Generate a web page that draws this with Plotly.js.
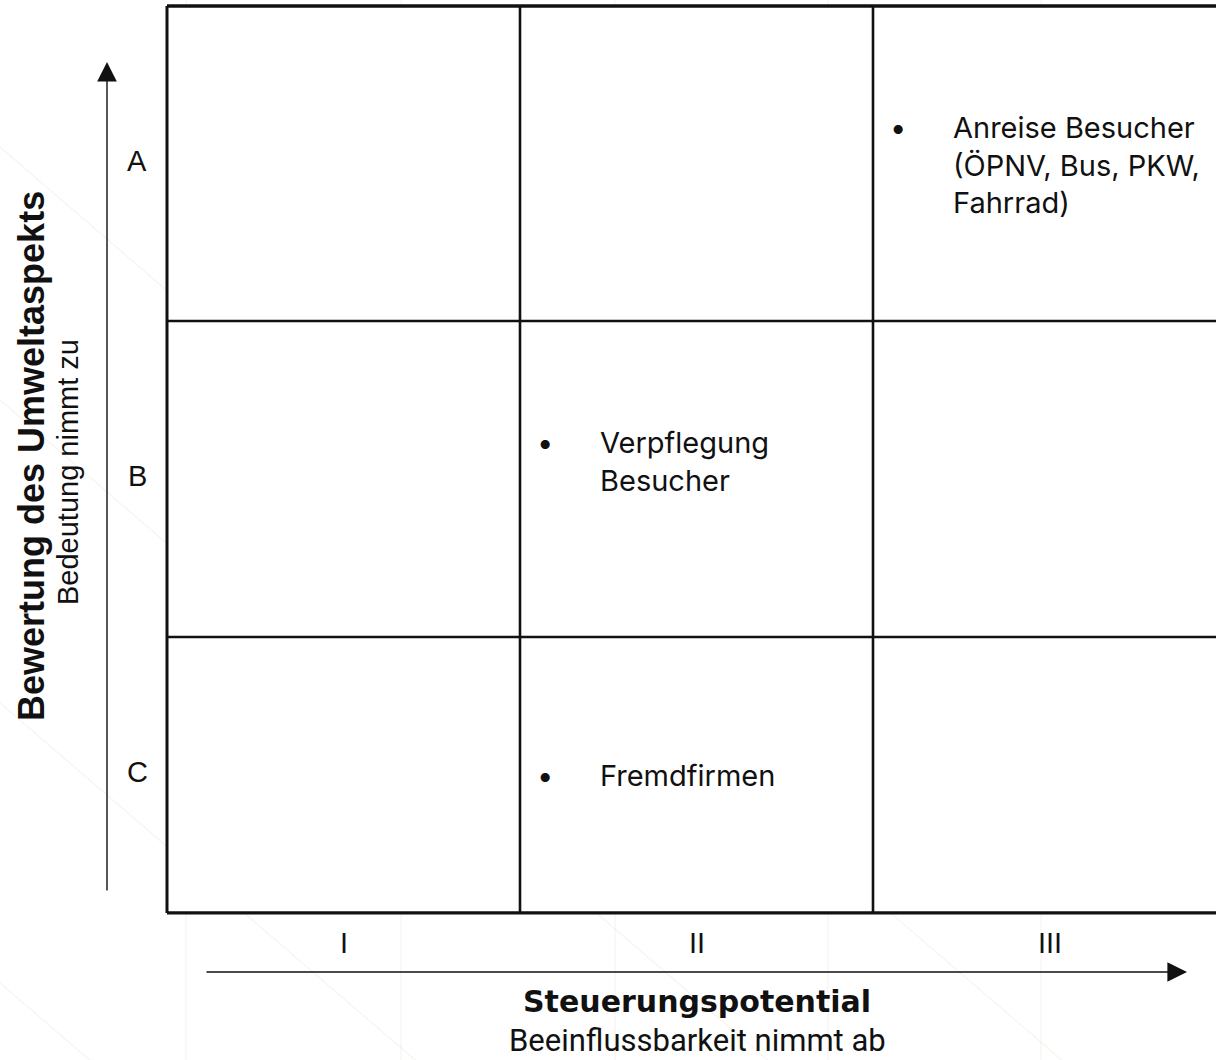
<!DOCTYPE html>
<html>
<head>
<meta charset="utf-8">
<script src="https://cdn.plot.ly/plotly-3.0.1.min.js"></script>
<style>html,body{margin:0;padding:0;background:#fff;}#chart{width:1216px;height:1060px;}</style>
</head>
<body>
<div id="chart"></div>
<script>
// ---- data ----
const rowLabels = ['C', 'B', 'A'];              // bottom -> top
const rowEdges = [0, 0.876, 1.879, 2.879];      // relative row boundaries
const colLabels = ['I', 'II', 'III'];
const colEdges = [0, 1, 2, 3];
const itemCols = [2, 1, 1];
const itemRows = [2, 1, 0];
const itemTexts = [
  'Anreise Besucher<br>(ÖPNV, Bus, PKW,<br>Fahrrad)',
  'Verpflegung<br>Besucher<br> ',
  'Fremdfirmen'
];
const yTitle = 'Bewertung des Umweltaspekts';
const ySubtitle = 'Bedeutung nimmt zu';
const xTitle = 'Steuerungspotential';
const xSubtitle = 'Beeinflussbarkeit nimmt ab';

// ---- layout geometry ----
const W = 1216, H = 1060;
const mL = 160, mR = 0, mT = 0, mB = 140;
const pw = W - mL - mR, ph = H - mT - mB;
const unitX = 353, unitY = 315;
const x0 = -(167 - mL) / unitX;
const yTopPx = 6;
const yMax = rowEdges[3] + (yTopPx - mT) / unitY;
const yMin = yMax - ph / unitY;
const px = v => (v - mL) / pw;
const py = v => (H - mB - v) / ph;

const rowCenters = rowLabels.map((_, i) => (rowEdges[i] + rowEdges[i + 1]) / 2);
const colCenters = colLabels.map((_, i) => (colEdges[i] + colEdges[i + 1]) / 2);

const shapes = [];
const faint = 'rgba(205,195,160,0.18)';
// background decoration (paper, below plot)
[147, 400, 703, 983].forEach(b => {
  shapes.push({type: 'line', xref: 'paper', yref: 'paper', layer: 'below',
    x0: px(0), y0: py(b), x1: px(1300), y1: py(b + 0.86 * 1300),
    line: {color: faint, width: 1.2}});
});
[186, 401, 615, 828, 1041].forEach(v => {
  shapes.push({type: 'line', xref: 'paper', yref: 'paper', layer: 'below',
    x0: px(v), y0: py(0), x1: px(v), y1: py(H),
    line: {color: faint, width: 1.2}});
});
// white cell area
shapes.push({type: 'rect', xref: 'x', yref: 'y', layer: 'below',
  x0: colEdges[0], x1: colEdges[3], y0: rowEdges[0], y1: rowEdges[3],
  fillcolor: '#fff', line: {width: 0}});
// grid
colEdges.forEach((c, i) => {
  shapes.push({type: 'line', xref: 'x', yref: 'y', x0: c, x1: c, y0: rowEdges[0], y1: rowEdges[3],
    line: {color: '#111', width: i === 0 ? 3 : 2.6}});
});
rowEdges.forEach((r, i) => {
  shapes.push({type: 'line', xref: 'x', yref: 'y', x0: colEdges[0], x1: colEdges[3], y0: r, y1: r,
    line: {color: '#111', width: (i === 0 || i === 3) ? 3.4 : 2.6}});
});

const annotations = [];
const cellFont = {family: 'Inter, Roboto, sans-serif', size: 29, color: '#111'};
itemTexts.forEach((t, i) => {
  const nLines = t.split('<br>').length;
  const yc = rowCenters[itemRows[i]];
  annotations.push({xref: 'x', yref: 'y', x: colEdges[itemCols[i]] + 0.222, y: yc, yshift: -1,
    xanchor: 'left', yanchor: 'middle', align: 'left', showarrow: false,
    text: t, font: cellFont});
  annotations.push({xref: 'x', yref: 'y', x: colEdges[itemCols[i]] + 0.042, y: yc, yshift: -1,
    xanchor: 'left', yanchor: 'middle', align: 'left', showarrow: false,
    text: ['•'].concat(Array(nLines - 1).fill(' ')).join('<br>'), font: cellFont});
});
// row labels
const labFont = {family: 'Liberation Sans, Arial, sans-serif', size: 29, color: '#111'};
rowLabels.forEach((l, i) => {
  annotations.push({xref: 'paper', yref: 'y', x: px(137), y: rowCenters[i], yshift: 3, showarrow: false,
    xanchor: 'center', yanchor: 'middle', text: l, font: labFont});
});
// column labels
colLabels.forEach((l, i) => {
  annotations.push({xref: 'x', yref: 'paper', x: colCenters[i], y: py(943), showarrow: false,
    xanchor: 'center', yanchor: 'middle', text: l, font: labFont});
});
// arrows
annotations.push({xref: 'paper', yref: 'paper', x: px(107), y: py(62), ax: 0, ay: 830,
  axref: 'pixel', ayref: 'pixel', text: '', showarrow: true, arrowhead: 2, arrowsize: 2.8,
  arrowwidth: 1.4, arrowcolor: '#111', standoff: 0});
annotations.push({xref: 'paper', yref: 'paper', x: px(1187), y: py(972), ax: -982, ay: 0,
  axref: 'pixel', ayref: 'pixel', text: '', showarrow: true, arrowhead: 2, arrowsize: 2.8,
  arrowwidth: 1.4, arrowcolor: '#111', standoff: 0});
// titles
annotations.push({xref: 'paper', yref: 'paper', x: px(31), y: py(456), textangle: -90, showarrow: false,
  xanchor: 'center', yanchor: 'middle', text: '<b>' + yTitle + '</b>',
  font: {family: 'Liberation Sans, Arial, sans-serif', size: 36, color: '#111'}});
annotations.push({xref: 'paper', yref: 'paper', x: px(68), y: py(472), textangle: -90, showarrow: false,
  xanchor: 'center', yanchor: 'middle', text: ySubtitle,
  font: {family: 'Liberation Sans, Arial, sans-serif', size: 29, color: '#111'}});
annotations.push({xref: 'paper', yref: 'paper', x: px(697), y: py(1001), showarrow: false,
  xanchor: 'center', yanchor: 'middle', text: '<b>' + xTitle + '</b>',
  font: {family: 'DejaVu Sans, sans-serif', size: 30, color: '#111'}});
annotations.push({xref: 'paper', yref: 'paper', x: px(697), y: py(1040), showarrow: false,
  xanchor: 'center', yanchor: 'middle', text: xSubtitle,
  font: {family: 'Roboto, sans-serif', size: 31, color: '#111'}});

const data = [{type: 'scatter', mode: 'markers', x: colCenters, y: rowCenters,
  marker: {opacity: 0}, hoverinfo: 'skip', showlegend: false}];

const layout = {
  width: W, height: H,
  margin: {l: mL, r: mR, t: mT, b: mB, pad: 0},
  paper_bgcolor: '#fff', plot_bgcolor: 'rgba(0,0,0,0)',
  xaxis: {range: [x0, x0 + pw / unitX], visible: false, fixedrange: true},
  yaxis: {range: [yMin, yMax], visible: false, fixedrange: true},
  shapes: shapes, annotations: annotations, showlegend: false
};
Plotly.newPlot('chart', data, layout, {displayModeBar: false, staticPlot: true});
</script>
</body>
</html>
